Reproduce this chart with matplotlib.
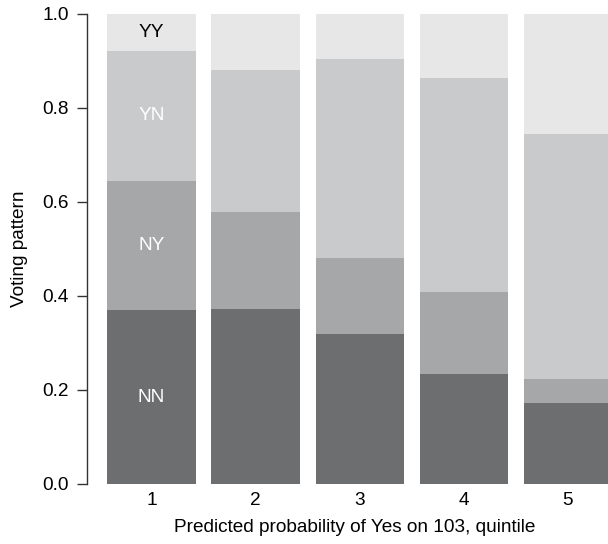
import matplotlib.pyplot as plt
import numpy as np

plt.rcParams["font.family"] = ["Liberation Sans", "DejaVu Sans"]

quintiles = ["1", "2", "3", "4", "5"]
patterns = ["NN", "NY", "YN", "YY"]
nn = [0.370, 0.372, 0.319, 0.234, 0.172]
ny = [0.275, 0.207, 0.162, 0.175, 0.051]
yn = [0.276, 0.302, 0.423, 0.455, 0.522]
yy = [0.079, 0.119, 0.096, 0.136, 0.255]

colors = ["#6d6e70", "#a6a7a9", "#c9cacc", "#e6e7e6"]
label_colors = ["white", "white", "white", "black"]
fs = 13.7

fig = plt.figure(figsize=(6.08, 5.44), dpi=100)
ax = fig.add_axes([87 / 608, 60 / 544, 1 - 87 / 608, 470 / 544])

x = np.arange(1, len(quintiles) + 1)
bottom = np.zeros(len(quintiles))
for i, vals in enumerate([nn, ny, yn, yy]):
    vals = np.array(vals)
    ax.bar(x, vals, width=0.85, bottom=bottom, color=colors[i], linewidth=0)
    # segment labels only on the first bar
    ax.text(x[0], bottom[0] + vals[0] / 2, patterns[i], ha="center", va="center",
            color=label_colors[i], fontsize=fs)
    bottom += vals

ax.set_xlim(1 - 64.5 / 104, 5 + 40 / 104)
ax.set_ylim(0, 1)
ax.set_xticks(x)
ax.set_xticklabels(quintiles)
ax.set_yticks([0, 0.2, 0.4, 0.6, 0.8, 1.0])
ax.set_yticklabels(["0.0", "0.2", "0.4", "0.6", "0.8", "1.0"])
for s in ["top", "right", "bottom"]:
    ax.spines[s].set_visible(False)
ax.spines["left"].set_color("#333333")
ax.spines["left"].set_linewidth(1.0)
ax.tick_params(axis="y", length=7.2, width=1.0, color="#333333", labelsize=fs, pad=6)
ax.tick_params(axis="x", length=0, labelsize=fs, pad=6)
ax.set_xlabel("Predicted probability of Yes on 103, quintile", fontsize=fs, labelpad=8)
ax.xaxis.set_label_coords(0.513, -0.074)
ax.set_ylabel("Voting pattern", fontsize=fs, labelpad=10)

fig.savefig("out.png", dpi=100)
